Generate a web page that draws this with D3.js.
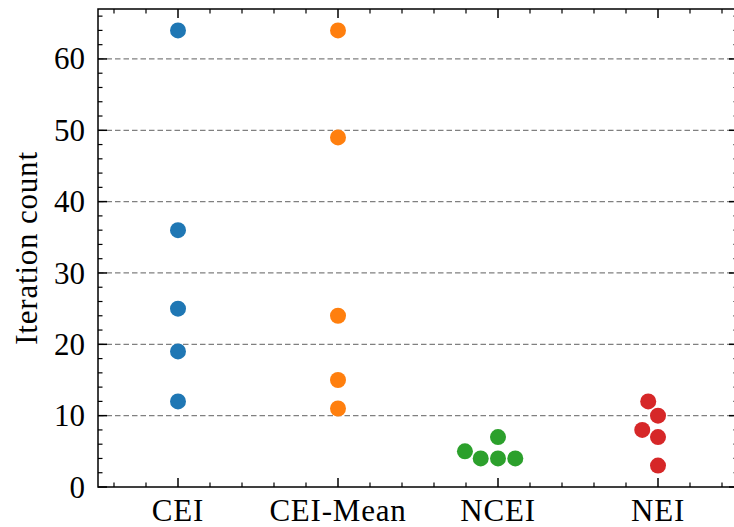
<!DOCTYPE html>
<html>
<head>
<meta charset="utf-8">
<script src="https://cdn.jsdelivr.net/npm/d3@7"></script>
<style>
  body { margin: 0; background: #fff; }
</style>
</head>
<body>
<svg id="chart" width="734" height="527"></svg>
<script>
let categories = ['CEI', 'CEI-Mean', 'NCEI', 'NEI'];
let colors = ['#1f77b4', '#ff7f0e', '#2ca02c', '#d62728'];
let ceiValues = [64, 36, 25, 19, 12];
let ceiMeanValues = [64, 49, 24, 15, 11];
let nceiValues = [5, 4, 4, 7, 4];
let neiValues = [12, 10, 8, 7, 3];
let yTicks = [0, 10, 20, 30, 40, 50, 60];
let seriesValues = [ceiValues, ceiMeanValues, nceiValues, neiValues];

let margin = {top: 9, bottom: 40, left: 98, right: -4};
let svgWidth = 734;
let svgHeight = 527;
let width = svgWidth - margin.left - margin.right;
let height = svgHeight - margin.top - margin.bottom;
let r = 8;
let gap = 17.3;
let serif = "'Liberation Serif', 'DejaVu Serif', serif";

let xScale = d3.scaleLinear().domain([-0.5, 3.5]).range([0, width]);
let yScale = d3.scaleLinear().domain([0, 67]).range([height, 0]);

let svg = d3.select('#chart').append('g')
    .attr('transform', `translate(${margin.left},${margin.top})`);

drawGrid();
drawPoints();
drawAxis();

function drawGrid(){
    svg.append('g').selectAll('line')
        .data(yTicks.filter(d => d > 0))
        .enter()
        .append('line')
        .attr('x1', 0).attr('x2', width)
        .attr('y1', d => yScale(d)).attr('y2', d => yScale(d))
        .attr('stroke', '#808080')
        .attr('stroke-width', 1.2)
        .attr('stroke-dasharray', '5.5,3');
}

// simple beeswarm, like seaborn: place in order of value, closest free offset, left first
function swarm(values){
    let pts = values.map(v => ({v: v, y: yScale(v), x: 0}))
        .sort((a, b) => a.v - b.v);
    let placed = [];
    pts.forEach(p => {
        let cands = [0];
        placed.forEach(q => {
            let dy = Math.abs(q.y - p.y);
            if (dy < gap) {
                let dx = Math.sqrt(gap * gap - dy * dy);
                cands.push(q.x - dx, q.x + dx);
            }
        });
        cands.sort((a, b) => (Math.abs(a) - Math.abs(b)) || (a - b));
        for (let k = 0; k < cands.length; k++) {
            let c = cands[k];
            let ok = placed.every(q => Math.hypot(q.x - c, q.y - p.y) >= gap - 0.01);
            if (ok) { p.x = c; break; }
        }
        placed.push(p);
    });
    return placed;
}

function drawPoints(){
    let g = svg.append('g').attr('class', 'points');
    seriesValues.forEach((vals, i) => {
        g.append('g')
            .selectAll('circle')
            .data(swarm(vals))
            .enter()
            .append('circle')
            .attr('cx', d => xScale(i) + d.x)
            .attr('cy', d => d.y)
            .attr('r', r)
            .attr('fill', colors[i]);
    });
}

function drawAxis(){
    let majorLen = 9, minorLen = 4.5;
    let xMinor = d3.range(-0.4, 3.5, 0.2).filter(d => Math.abs(d - Math.round(d)) > 0.01);
    let yMinor = d3.range(0, 67, 2).filter(d => d % 10 !== 0);
    let axis = svg.append('g').attr('class', 'axis')
        .attr('stroke', '#000');

    // inward ticks on all four sides
    [[0, -1], [height, 1]].forEach(([y0, dir]) => {
        axis.selectAll(null).data(d3.range(0, 4)).enter().append('line')
            .attr('x1', d => xScale(d)).attr('x2', d => xScale(d))
            .attr('y1', y0).attr('y2', y0 - dir * majorLen)
            .attr('stroke-width', 1.5);
        axis.selectAll(null).data(xMinor).enter().append('line')
            .attr('x1', d => xScale(d)).attr('x2', d => xScale(d))
            .attr('y1', y0).attr('y2', y0 - dir * minorLen)
            .attr('stroke-width', 1.2);
    });
    [[0, 1], [width, -1]].forEach(([x0, dir]) => {
        axis.selectAll(null).data(yTicks).enter().append('line')
            .attr('y1', d => yScale(d)).attr('y2', d => yScale(d))
            .attr('x1', x0).attr('x2', x0 + dir * majorLen)
            .attr('stroke-width', 1.5);
        axis.selectAll(null).data(yMinor).enter().append('line')
            .attr('y1', d => yScale(d)).attr('y2', d => yScale(d))
            .attr('x1', x0).attr('x2', x0 + dir * minorLen)
            .attr('stroke-width', 1.2);
    });

    axis.append('rect')
        .attr('x', 0).attr('y', 0)
        .attr('width', width).attr('height', height)
        .attr('fill', 'none')
        .attr('stroke-width', 1.5);

    let labels = svg.append('g')
        .attr('font-family', serif)
        .style('font-family', serif)
        .style('font-size', '31px');
    labels.selectAll(null).data(yTicks).enter().append('text')
        .attr('x', -13)
        .attr('y', d => yScale(d))
        .attr('dy', '0.34em')
        .attr('text-anchor', 'end')
        .text(d => d);
    labels.selectAll(null).data(categories).enter().append('text')
        .attr('x', (d, i) => xScale(i))
        .attr('y', height + 34)
        .attr('text-anchor', 'middle')
        .style('letter-spacing', '0.8px')
        .text(d => d);
    labels.append('text')
        .attr('transform', `translate(${-61},${height / 2}) rotate(-90)`)
        .attr('text-anchor', 'middle')
        .style('letter-spacing', '0.8px')
        .text('Iteration count');
}
</script>
</body>
</html>
